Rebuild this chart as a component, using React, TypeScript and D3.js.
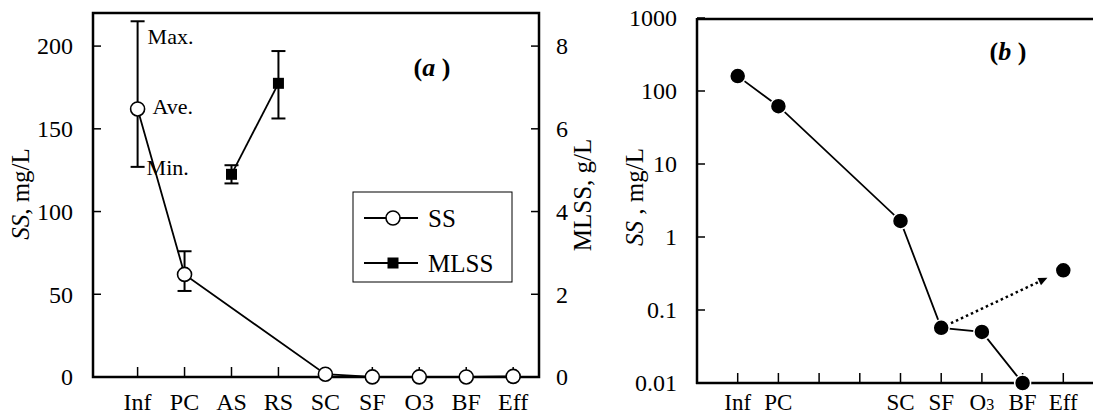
import React from "react";
import { scaleLinear, scaleLog, line } from "d3";

// categories along the treatment train
const stages = ["Inf", "PC", "AS", "RS", "SC", "SF", "O3", "BF", "Eff"];
const stageLabelsB = ["Inf", "PC", "", "", "SC", "SF", "O3", "BF", "Eff"];

// (a) SS, mg/L : average, max, min
const ssAve = [162, 62, null, null, 1.7, 0.06, 0.05, 0.01, 0.36];
const ssMax = [215, 76, null, null, null, null, null, null, null];
const ssMin = [127, 52, null, null, null, null, null, null, null];

// (a) MLSS, g/L
const mlssAve = [null, null, 4.9, 7.1, null, null, null, null, null];
const mlssMax = [null, null, 5.12, 7.88, null, null, null, null, null];
const mlssMin = [null, null, 4.68, 6.25, null, null, null, null, null];

// (b) SS on log scale, mg/L
const ssLog = [160, 62, null, null, 1.66, 0.057, 0.05, 0.01, 0.35];

const leftTicks = [0, 50, 100, 150, 200];
const rightTicks = [0, 2, 4, 6, 8];
const logTicks = [0.01, 0.1, 1, 10, 100, 1000];

const FONT = "'Liberation Serif', 'Times New Roman', serif";

type Pt = { i: number; v: number };

function PanelA() {
  const x = scaleLinear().domain([-0.95, 8.55]).range([93, 539]);
  const y = scaleLinear().domain([0, 220]).range([377, 13]);
  const y2 = scaleLinear().domain([0, 8.8]).range([377, 13]);

  const ssPts = stages
    .map((s, i) => ({ i, v: ssAve[i] }))
    .filter((d) => d.v !== null) as Pt[];
  const mlPts = stages
    .map((s, i) => ({ i, v: mlssAve[i] }))
    .filter((d) => d.v !== null) as Pt[];

  const ssLine = line<Pt>()
    .x((d) => x(d.i))
    .y((d) => y(d.v));
  const mlLine = line<Pt>()
    .x((d) => x(d.i))
    .y((d) => y2(d.v));

  const cap = 7;
  return (
    <g>
      {/* frame */}
      <rect x={93} y={13} width={446} height={364} fill="none" stroke="#000" strokeWidth={2.5} />
      {leftTicks.map((t) => (
        <g key={"l" + t}>
          <line x1={93} x2={101} y1={y(t)} y2={y(t)} stroke="#000" strokeWidth={1.5} />
          <text x={73} y={y(t)} dy="0.35em" textAnchor="end" fontSize={24}>{t}</text>
        </g>
      ))}
      {rightTicks.map((t) => (
        <g key={"r" + t}>
          <line x1={531} x2={539} y1={y2(t)} y2={y2(t)} stroke="#000" strokeWidth={1.5} />
          <text x={556} y={y2(t)} dy="0.35em" textAnchor="start" fontSize={24}>{t}</text>
        </g>
      ))}
      {stages.map((s, i) => (
        <g key={"x" + s}>
          <line x1={x(i)} x2={x(i)} y1={377} y2={367} stroke="#000" strokeWidth={1.5} />
          <text x={x(i)} y={410} textAnchor="middle" fontSize={24}>{s}</text>
        </g>
      ))}

      {/* error bars */}
      {stages.map((s, i) =>
        ssMax[i] !== null ? (
          <g key={"e" + s} stroke="#000" strokeWidth={2}>
            <line x1={x(i)} x2={x(i)} y1={y(ssMax[i] as number)} y2={y(ssMin[i] as number)} />
            <line x1={x(i) - cap} x2={x(i) + cap} y1={y(ssMax[i] as number)} y2={y(ssMax[i] as number)} />
            <line x1={x(i) - cap} x2={x(i) + cap} y1={y(ssMin[i] as number)} y2={y(ssMin[i] as number)} />
          </g>
        ) : null
      )}
      {stages.map((s, i) =>
        mlssMax[i] !== null ? (
          <g key={"m" + s} stroke="#000" strokeWidth={2}>
            <line x1={x(i)} x2={x(i)} y1={y2(mlssMax[i] as number)} y2={y2(mlssMin[i] as number)} />
            <line x1={x(i) - cap} x2={x(i) + cap} y1={y2(mlssMax[i] as number)} y2={y2(mlssMax[i] as number)} />
            <line x1={x(i) - cap} x2={x(i) + cap} y1={y2(mlssMin[i] as number)} y2={y2(mlssMin[i] as number)} />
          </g>
        ) : null
      )}

      <path d={ssLine(ssPts) || ""} fill="none" stroke="#000" strokeWidth={1.8} />
      <path d={mlLine(mlPts) || ""} fill="none" stroke="#000" strokeWidth={1.8} />
      {ssPts.map((d) => (
        <circle key={"c" + d.i} cx={x(d.i)} cy={y(d.v)} r={7} fill="#fff" stroke="#000" strokeWidth={1.6} />
      ))}
      {mlPts.map((d) => (
        <rect key={"s" + d.i} x={x(d.i) - 5.5} y={y2(d.v) - 5.5} width={11} height={11} fill="#000" />
      ))}

      {/* annotations */}
      <text x={x(0) + 10} y={y(ssMax[0] as number) + 23} fontSize={22}>Max.</text>
      <text x={x(0) + 15} y={y(ssAve[0] as number) + 5} fontSize={22}>Ave.</text>
      <text x={x(0) + 9} y={y(ssMin[0] as number) + 8} fontSize={22}>Min.</text>
      <text x={432} y={76} textAnchor="middle" fontSize={26} fontWeight="bold">
        (<tspan fontStyle="italic">a</tspan> )
      </text>

      {/* legend */}
      <rect x={353} y={192} width={159} height={90} fill="#fff" stroke="#000" strokeWidth={1} />
      <line x1={364} x2={418} y1={218} y2={218} stroke="#000" strokeWidth={1.8} />
      <circle cx={393} cy={218} r={7} fill="#fff" stroke="#000" strokeWidth={1.6} />
      <text x={428} y={227} fontSize={25}>SS</text>
      <line x1={364} x2={418} y1={263} y2={263} stroke="#000" strokeWidth={1.8} />
      <rect x={387.5} y={257.5} width={11} height={11} fill="#000" />
      <text x={428} y={272} fontSize={25}>MLSS</text>

      {/* axis titles */}
      <text transform="translate(29,194) rotate(-90)" textAnchor="middle" fontSize={25}>
        <tspan fontStyle="italic">SS</tspan>, mg/L
      </text>
      <text transform="translate(591,195) rotate(-90)" textAnchor="middle" fontSize={25}>
        MLSS, g/L
      </text>
    </g>
  );
}

function PanelB() {
  const x = scaleLinear().domain([-1, 9]).range([697, 1104]);
  const y = scaleLog().domain([0.01, 1000]).range([383, 18]);

  const solid = stages
    .map((s, i) => ({ i, v: ssLog[i] }))
    .filter((d) => d.v !== null && d.i <= 7) as Pt[];
  const all = stages
    .map((s, i) => ({ i, v: ssLog[i] }))
    .filter((d) => d.v !== null) as Pt[];

  const ln = line<Pt>()
    .x((d) => x(d.i))
    .y((d) => y(d.v));

  // dotted arrow from SF to Eff
  const sfI = stages.indexOf("SF");
  const effI = stages.indexOf("Eff");
  const x0 = x(sfI), y0 = y(ssLog[sfI] as number);
  const x1 = x(effI), y1 = y(ssLog[effI] as number);
  const ax = x0 + (x1 - x0) * 0.08, ay = y0 + (y1 - y0) * 0.08;
  const bx = x0 + (x1 - x0) * 0.87, by = y0 + (y1 - y0) * 0.87;
  const ang = Math.atan2(by - ay, bx - ax);
  const hl = 9, hw = 4;
  const head = [
    [bx, by],
    [bx - hl * Math.cos(ang) + hw * Math.sin(ang), by - hl * Math.sin(ang) - hw * Math.cos(ang)],
    [bx - hl * Math.cos(ang) - hw * Math.sin(ang), by - hl * Math.sin(ang) + hw * Math.cos(ang)],
  ]
    .map((p) => p.join(","))
    .join(" ");

  return (
    <g>
      <line x1={697} x2={1093} y1={19} y2={19} stroke="#000" strokeWidth={2.5} />
      <line x1={697} x2={697} y1={18} y2={384} stroke="#000" strokeWidth={2.5} />
      <line x1={696} x2={1093} y1={383} y2={383} stroke="#000" strokeWidth={2.5} />
      {logTicks.map((t) => (
        <g key={"t" + t}>
          <line x1={697} x2={705} y1={y(t)} y2={y(t)} stroke="#000" strokeWidth={1.5} />
          <text x={677} y={y(t)} dy="0.35em" textAnchor="end" fontSize={24}>{t}</text>
        </g>
      ))}
      {stageLabelsB.map((s, i) => (
        <g key={"xb" + i}>
          <line x1={x(i)} x2={x(i)} y1={383} y2={373} stroke="#000" strokeWidth={1.5} />
          <text x={x(i)} y={410} textAnchor="middle" fontSize={23}>
            {s === "O3" ? (
              <>
                O<tspan fontSize={16}>3</tspan>
              </>
            ) : (
              s
            )}
          </text>
        </g>
      ))}

      <path d={ln(solid) || ""} fill="none" stroke="#000" strokeWidth={1.8} />
      <line x1={ax} y1={ay} x2={bx - 5 * Math.cos(ang)} y2={by - 5 * Math.sin(ang)} stroke="#000" strokeWidth={2.5} strokeDasharray="2.5,3" />
      <polygon points={head} fill="#000" />
      {all.map((d) => (
        <circle key={"b" + d.i} cx={x(d.i)} cy={y(d.v)} r={8} fill="#000" stroke="#fff" strokeWidth={1.5} />
      ))}

      <text x={1008} y={60} textAnchor="middle" fontSize={26} fontWeight="bold">
        (<tspan fontStyle="italic">b</tspan> )
      </text>
      <text transform="translate(643,197) rotate(-90)" textAnchor="middle" fontSize={25}>
        <tspan fontStyle="italic">SS</tspan> , mg/L
      </text>
    </g>
  );
}

export default function App() {
  return (
    <svg
      width={1093}
      height={416}
      style={{ position: "absolute", left: 0, top: 0, background: "#fff" }}
      fontFamily={FONT}
    >
      <rect width={1093} height={416} fill="#fff" />
      <PanelA />
      <PanelB />
    </svg>
  );
}
